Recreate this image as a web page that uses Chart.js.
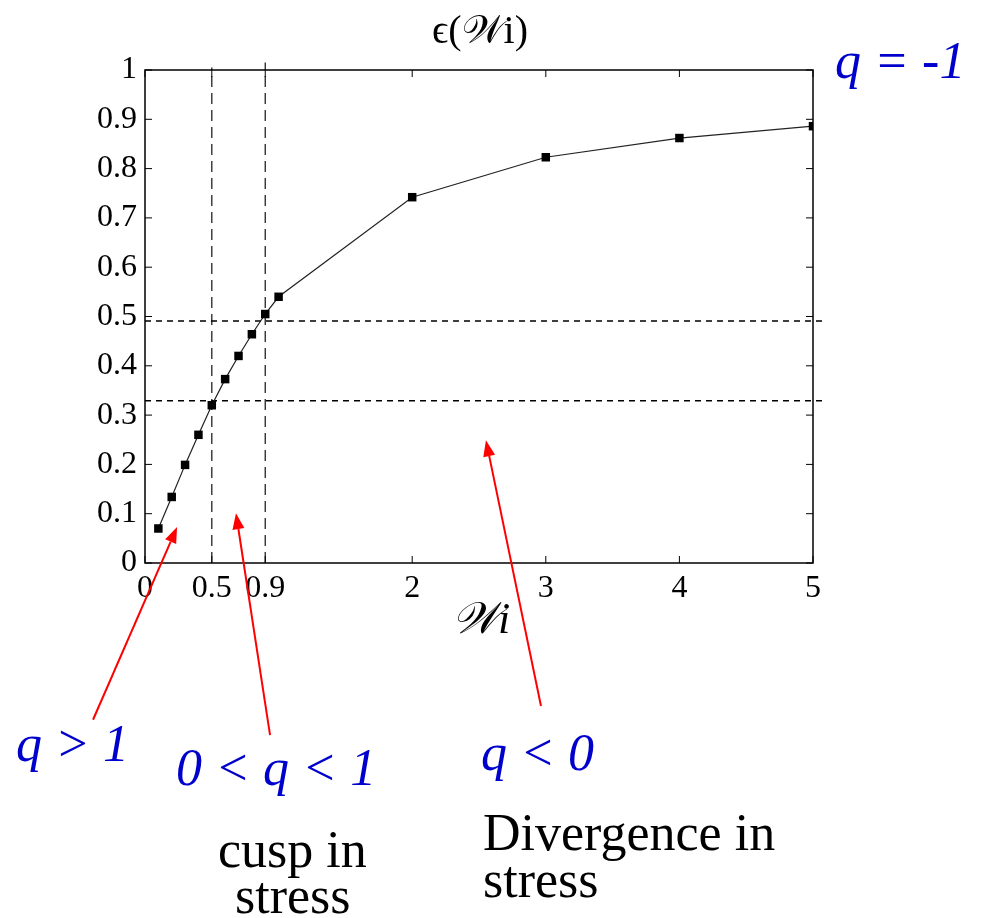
<!DOCTYPE html>
<html><head><meta charset="utf-8">
<script src="https://cdn.jsdelivr.net/npm/chart.js@4/dist/chart.umd.min.js"></script>
<style>html,body{margin:0;padding:0;background:#fff}#wrap{width:985px;height:918px;position:relative}</style>
</head><body><div id="wrap"><canvas id="c"></canvas></div>
<script>
// data
const wiValues = [0.1, 0.2, 0.3, 0.4, 0.5, 0.6, 0.7, 0.8, 0.9, 1.0, 2, 3, 4, 5];
const epsValues = [0.07, 0.134, 0.199, 0.26, 0.32, 0.373, 0.42, 0.464, 0.505, 0.54, 0.742, 0.823, 0.862, 0.886];
const xTickValues = [0, 0.5, 0.9, 2, 3, 4, 5];
const yTickValues = [0, 0.1, 0.2, 0.3, 0.4, 0.5, 0.6, 0.7, 0.8, 0.9, 1];
const hLevels = [0.491, 0.329];
const vLevels = [0.5, 0.9];
// arrows: [tailX, tailY, tipX, tipY] in data units
const arrows = [[-0.389, -0.318, 0.24, 0.073], [0.936, -0.349, 0.681, 0.101], [2.964, -0.29, 2.552, 0.249]];
const chartTitle = 'ϵ(𝒲i)';
const xTitle = '𝒲i';

const serif = '"Liberation Serif", "DejaVu Serif", serif';
const datasets = [{
  data: wiValues.map((x, i) => ({x, y: epsValues[i]})),
  showLine: true, borderColor: '#222', borderWidth: 1.2,
  pointStyle: 'rect', pointRadius: 6, pointBackgroundColor: '#000', pointBorderColor: '#000', pointBorderWidth: 0
}];
hLevels.forEach(l => datasets.push({data: [{x: 0, y: l}, {x: 5.07, y: l}], showLine: true, borderColor: '#000', borderWidth: 1.5, borderDash: [6, 5], pointRadius: 0, clip: false}));
vLevels.forEach((l, i) => datasets.push({data: [{x: l, y: 0}, {x: l, y: i ? 1.015 : 1.005}], showLine: true, borderColor: '#222', borderWidth: 1.3, borderDash: [11, 6], pointRadius: 0, clip: false}));

const deco = {
  id: 'deco',
  afterDraw(chart) {
    const {ctx, chartArea: a, scales: {x, y}} = chart;
    ctx.save();
    ctx.strokeStyle = '#000'; ctx.lineWidth = 1.5;
    ctx.strokeRect(a.left, a.top, a.right - a.left, a.bottom - a.top);
    ctx.lineWidth = 1;
    const L = 7;
    xTickValues.forEach(v => { const px = x.getPixelForValue(v); ctx.beginPath(); ctx.moveTo(px, a.bottom); ctx.lineTo(px, a.bottom - L); ctx.moveTo(px, a.top); ctx.lineTo(px, a.top + L); ctx.stroke(); });
    yTickValues.forEach(v => { const py = y.getPixelForValue(v); ctx.beginPath(); ctx.moveTo(a.left, py); ctx.lineTo(a.left + L, py); ctx.moveTo(a.right, py); ctx.lineTo(a.right - L, py); ctx.stroke(); });
    // titles
    ctx.fillStyle = '#000'; ctx.textAlign = 'center'; ctx.textBaseline = 'middle';
    ctx.font = '40px ' + serif;
    ctx.fillText(chartTitle, 480, 32);
    ctx.font = 'italic 44px ' + serif;
    ctx.fillText(xTitle, 481, 621);
    // arrows
    ctx.strokeStyle = '#ff0000'; ctx.fillStyle = '#ff0000'; ctx.lineWidth = 2;
    arrows.forEach(([tx, ty, hx, hy]) => {
      const x0 = x.getPixelForValue(tx), y0 = y.getPixelForValue(ty), x1 = x.getPixelForValue(hx), y1 = y.getPixelForValue(hy);
      const ang = Math.atan2(y1 - y0, x1 - x0), hl = 16, hw = 6;
      const bx = x1 - hl * Math.cos(ang), by = y1 - hl * Math.sin(ang);
      ctx.beginPath(); ctx.moveTo(x0, y0); ctx.lineTo(bx, by); ctx.stroke();
      ctx.beginPath(); ctx.moveTo(x1, y1);
      ctx.lineTo(bx + hw * Math.sin(ang), by - hw * Math.cos(ang));
      ctx.lineTo(bx - hw * Math.sin(ang), by + hw * Math.cos(ang));
      ctx.closePath(); ctx.fill();
    });
    // labels
    ctx.textAlign = 'left'; ctx.textBaseline = 'alphabetic';
    ctx.fillStyle = '#0000cc'; ctx.font = 'italic 52px ' + serif;
    ctx.fillText('q = -1', 835, 78);
    ctx.fillText('q > 1', 16, 761);
    ctx.fillText('0 < q < 1', 176, 785);
    ctx.fillText('q < 0', 481, 770);
    ctx.fillStyle = '#000'; ctx.font = '52px ' + serif;
    ctx.fillText('cusp in', 218, 867);
    ctx.fillText('stress', 235, 913);
    ctx.fillText('Divergence in', 483, 850);
    ctx.fillText('stress', 483, 897);
    ctx.restore();
  }
};

new Chart(document.getElementById('c'), {
  type: 'scatter',
  data: {datasets},
  options: {
    responsive: true, maintainAspectRatio: false, animation: false,
    layout: {padding: {left: 0, top: 70, right: 172, bottom: 275}},
    plugins: {legend: {display: false}, tooltip: {enabled: false}},
    scales: {
      x: {
        type: 'linear', min: 0, max: 5,
        afterBuildTicks: s => { s.ticks = xTickValues.map(v => ({value: v})); },
        afterFit: s => { s.height = 80; },
        grid: {display: false, drawTicks: false}, border: {display: false},
        ticks: {autoSkip: false, maxRotation: 0, color: '#000', padding: 6, font: {family: serif, size: 32}, callback: v => String(v)}
      },
      y: {
        type: 'linear', min: 0, max: 1,
        afterBuildTicks: s => { s.ticks = yTickValues.map(v => ({value: v})); },
        afterFit: s => { s.width = 145; },
        grid: {display: false, drawTicks: false}, border: {display: false},
        ticks: {color: '#000', padding: 8, font: {family: serif, size: 32}, callback: v => String(Math.round(v * 10) / 10)}
      }
    }
  },
  plugins: [deco]
});
</script></body></html>
